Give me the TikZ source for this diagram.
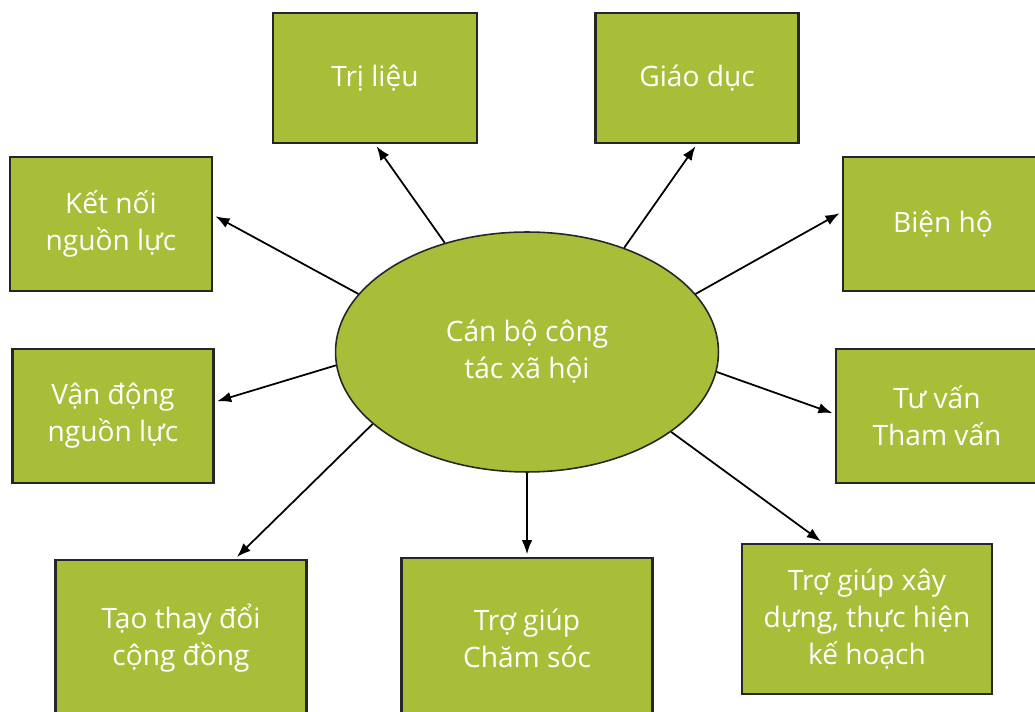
\documentclass[tikz,border=0pt]{standalone}
\usepackage{fontspec}
\setmainfont{Open Sans}
\usetikzlibrary{arrows.meta,shapes.geometric}
\definecolor{leaf}{RGB}{168,190,57}
\begin{document}
\begin{tikzpicture}[x=0.02cm,y=-0.02cm,
  box/.style={draw=black!85,line width=1.3pt,fill=leaf,text=white,align=center,
    font=\fontsize{16}{21}\selectfont},
  arr/.style={-{Latex[length=8pt,width=6pt]},line width=1pt,shorten >=1.5pt}]
  \useasboundingbox (0,0) rectangle (1035,712);
  \node[box,ellipse,line width=0.9pt,minimum width=7.66cm,minimum height=4.8cm]
    (ell) at (527,352) {Cán bộ công\\tác xã hội};
  \node[box,minimum width=4.08cm,minimum height=2.6cm] (tl) at (375,78) {Trị liệu};
  \node[box,minimum width=4.06cm,minimum height=2.6cm] (gd) at (697,78) {Giáo dục};
  \node[box,minimum width=4.04cm,minimum height=2.68cm] (kn) at (111,224) {Kết nối\\nguồn lực};
  \node[box,minimum width=4cm,minimum height=2.68cm] (bh) at (943,224) {Biện hộ};
  \node[box,minimum width=4.02cm,minimum height=2.68cm] (vd) at (113,416) {Vận động\\nguồn lực};
  \node[box,minimum width=4.04cm,minimum height=2.68cm] (tv) at (937,416) {Tư vấn\\Tham vấn};
  \node[box,minimum width=5.02cm,minimum height=3.12cm] (ttd) at (181,638) {Tạo thay đổi\\cộng đồng};
  \node[box,minimum width=5.02cm,minimum height=3.2cm] (cs) at (527,638) {Trợ giúp\\Chăm sóc};
  \node[box,minimum width=5cm,minimum height=3cm] (xd) at (867,619) {Trợ giúp xây\\dựng, thực hiện\\kế hoạch};
  \draw[arr] (ell.127) -- (tl.south);
  \draw[arr] (ell.47) -- (gd.south);
  \draw[arr] (ell.161) -- ([yshift=0.18cm]kn.east);
  \draw[arr] (ell.19) -- ([yshift=0.24cm]bh.west);
  \draw[arr] (ell.184) -- ([yshift=0.28cm]vd.east);
  \draw[arr] (ell.354) -- ([yshift=0.04cm]tv.west);
  \draw[arr] (ell.205) -- ([xshift=1.08cm]ttd.north);
  \draw[arr] (ell.south) -- (cs.north);
  \draw[arr] (ell.331) -- ([xshift=-0.88cm]xd.north);
\end{tikzpicture}
\end{document}
